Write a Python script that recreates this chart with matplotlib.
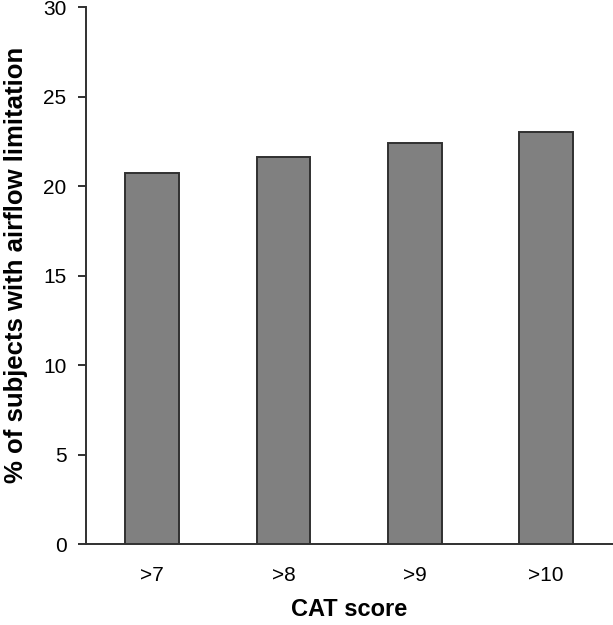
import matplotlib
matplotlib.use("Agg")
import matplotlib.pyplot as plt

categories = [">7", ">8", ">9", ">10"]
values = [20.7, 21.6, 22.4, 23.0]
yticks = [0, 5, 10, 15, 20, 25, 30]

plt.rcParams['font.family'] = ['Liberation Sans', 'DejaVu Sans']

fig = plt.figure(figsize=(6.13, 6.25), dpi=100)
ax = fig.add_axes([86/613, 81/625, 527/613, 537/625])
x = list(range(len(categories)))
ax.bar(x, values, width=0.41, color='#808080', edgecolor='#303030', linewidth=1.4, zorder=3)
ax.set_xlim(-0.505, 3.51)
ax.set_ylim(0, 30)
ax.set_yticks(yticks)
ax.set_xticks(x)
ax.set_xticklabels(categories)
ax.spines['top'].set_visible(False)
ax.spines['right'].set_visible(False)
for s in ['left', 'bottom']:
    ax.spines[s].set_linewidth(1.4)
    ax.spines[s].set_color('#303030')
ax.tick_params(axis='y', direction='out', length=6, width=1.4, color='#303030', labelsize=15, pad=8)
ax.tick_params(axis='x', length=0, labelsize=15, pad=16)
ax.set_xlabel('CAT score', fontsize=17, fontweight='bold', labelpad=9)
ax.set_ylabel('% of subjects with airflow limitation', fontsize=18.5, fontweight='bold')
ax.yaxis.set_label_coords(-0.11, 0.52)
fig.savefig('out.png', dpi=100)
